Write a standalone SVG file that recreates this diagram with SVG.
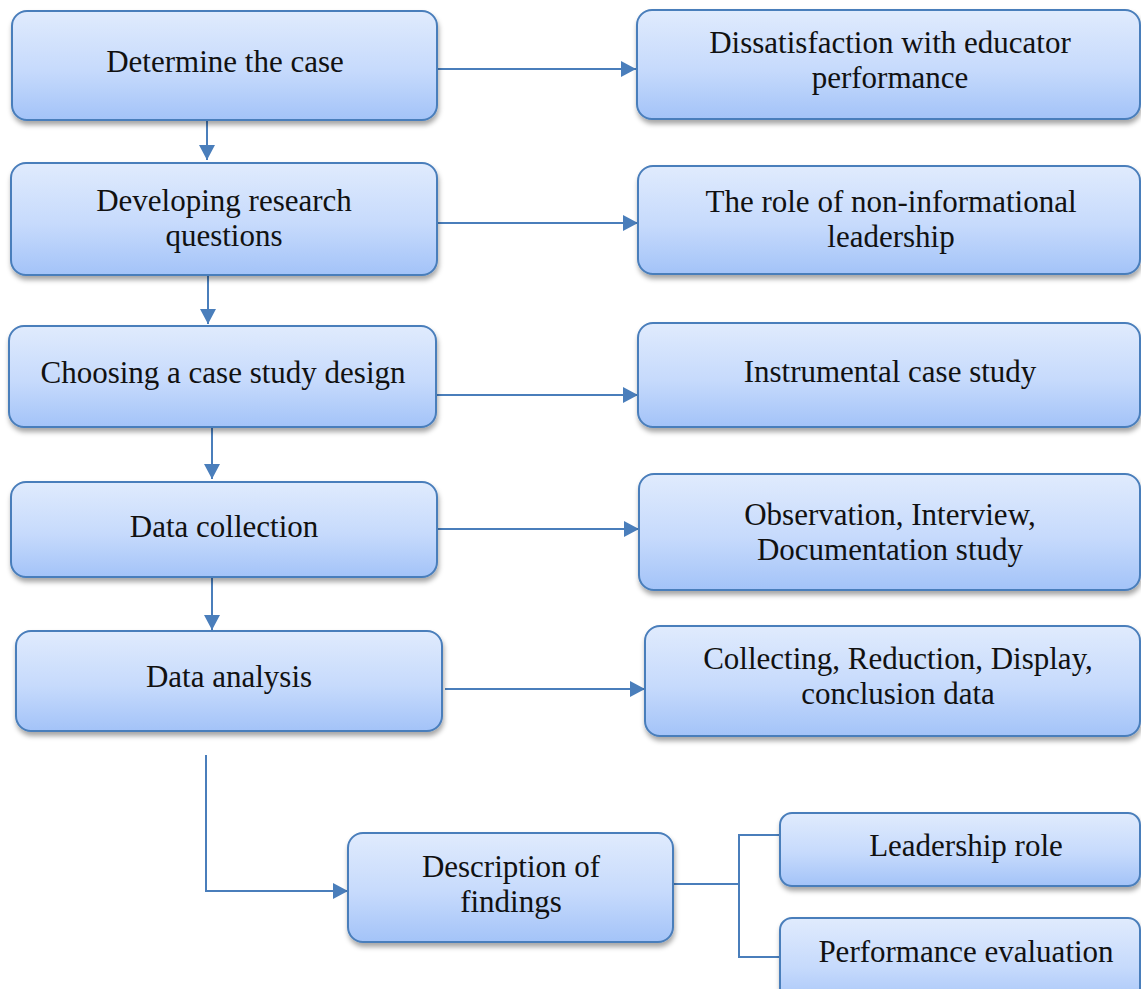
<svg xmlns="http://www.w3.org/2000/svg" width="1141" height="989" viewBox="0 0 1141 989">
<defs>
<linearGradient id="g" x1="0" y1="0" x2="0" y2="1">
<stop offset="0" stop-color="#e0ebfd"/>
<stop offset="0.55" stop-color="#c6dafc"/>
<stop offset="1" stop-color="#a3c3f8"/>
</linearGradient>
<filter id="sh" x="-10%" y="-10%" width="120%" height="130%">
<feDropShadow dx="1" dy="4" stdDeviation="2.5" flood-color="#000" flood-opacity="0.35"/>
</filter>
<marker id="ah" markerWidth="16" markerHeight="16" viewBox="0 0 16 16" refX="15" refY="8" orient="auto" markerUnits="userSpaceOnUse">
<path d="M0,0 L15,8 L0,16 Z" fill="#4a7ebb"/>
</marker>
<style>
.box{fill:url(#g);stroke:#4a7ebb;stroke-width:2;filter:url(#sh)}
.t{font-family:"Liberation Serif","Times New Roman",serif;font-size:31px;fill:#111;text-anchor:middle}
.c{fill:none;stroke:#4a7ebb;stroke-width:2}
.a{marker-end:url(#ah)}
</style>
</defs>
<g id="connectors">
<path class="c a" d="M207,120 V160"/>
<path class="c a" d="M208,275 V324"/>
<path class="c a" d="M212,427 V479"/>
<path class="c a" d="M212,577 V630"/>
<path class="c a" d="M437,69 H636"/>
<path class="c a" d="M437,223 H638"/>
<path class="c a" d="M436,395 H638"/>
<path class="c a" d="M437,529 H639"/>
<path class="c a" d="M445,689 H645"/>
<path class="c a" d="M206,755 V891 H348"/>
<path class="c" d="M673,884 H739"/>
<path class="c" d="M780,835 H739 V957 H780"/>
</g>
<g id="n1"><rect class="box" x="12" y="11" width="425" height="109" rx="15"/><text class="t" x="225" y="72">Determine the case</text></g>
<g id="n2"><rect class="box" x="11" y="163" width="426" height="112" rx="15"/><text class="t" x="224" y="211">Developing research</text><text class="t" x="224" y="246">questions</text></g>
<g id="n3"><rect class="box" x="9" y="326" width="427" height="101" rx="15"/><text class="t" x="223" y="383">Choosing a case study design</text></g>
<g id="n4"><rect class="box" x="11" y="482" width="426" height="95" rx="15"/><text class="t" x="224" y="537">Data collection</text></g>
<g id="n5"><rect class="box" x="16" y="631" width="426" height="100" rx="15"/><text class="t" x="229" y="687">Data analysis</text></g>
<g id="n6"><rect class="box" x="348" y="833" width="325" height="109" rx="15"/><text class="t" x="511" y="877">Description of</text><text class="t" x="511" y="912">findings</text></g>
<g id="r1"><rect class="box" x="637" y="10" width="503" height="109" rx="15"/><text class="t" x="890" y="53">Dissatisfaction with educator</text><text class="t" x="890" y="88">performance</text></g>
<g id="r2"><rect class="box" x="638" y="166" width="502" height="108" rx="15"/><text class="t" x="891" y="212">The role of non-informational</text><text class="t" x="891" y="247">leadership</text></g>
<g id="r3"><rect class="box" x="638" y="323" width="502" height="104" rx="15"/><text class="t" x="890" y="382">Instrumental case study</text></g>
<g id="r4"><rect class="box" x="639" y="474" width="501" height="116" rx="15"/><text class="t" x="890" y="525">Observation, Interview,</text><text class="t" x="890" y="560">Documentation study</text></g>
<g id="r5"><rect class="box" x="645" y="626" width="495" height="110" rx="15"/><text class="t" x="898" y="669">Collecting, Reduction, Display,</text><text class="t" x="898" y="704">conclusion data</text></g>
<g id="r6"><rect class="box" x="780" y="813" width="360" height="73" rx="12"/><text class="t" x="966" y="856">Leadership role</text></g>
<g id="r7"><rect class="box" x="780" y="918" width="360" height="90" rx="12"/><text class="t" x="966" y="962">Performance evaluation</text></g>
</svg>
